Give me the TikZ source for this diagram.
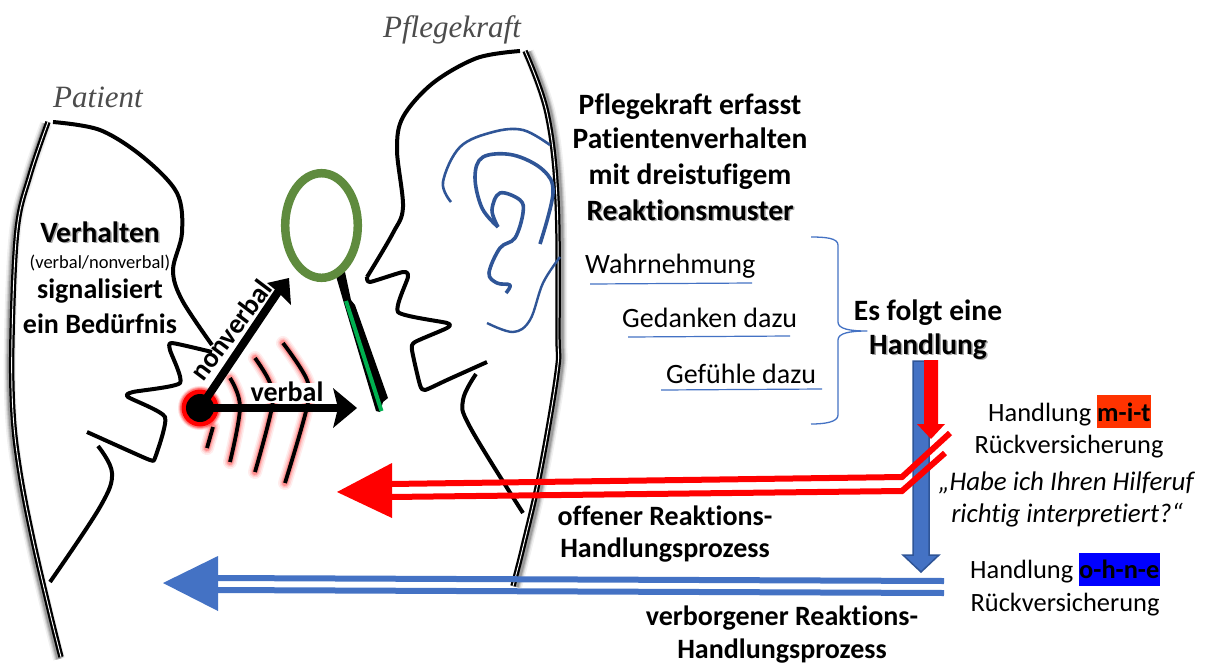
\documentclass[tikz,border=0pt]{standalone}
\usepackage{fontspec}
\setmainfont[Ligatures={NoCommon}]{Carlito}
\newfontfamily\handfont{Liberation Serif}
\definecolor{earblue}{HTML}{2F5597}
\definecolor{accblue}{HTML}{4472C4}
\definecolor{loupe}{HTML}{5F8B3E}
\definecolor{handleg}{HTML}{00B050}
\definecolor{hlred}{HTML}{FF3300}
\definecolor{hlblue}{HTML}{0000FF}
\newcommand{\shad}[1]{\rlap{\kern1.5pt\raisebox{-1.5pt}{\textcolor{black!35}{#1}}}#1}
\newcommand{\softshadow}[2]{%
  \foreach \wd/\op in {12/.06,9/.09,7/.12,5/.18}{\draw[line width=\wd pt,black,opacity=\op,shift={(#1)}] plot[smooth,tension=.6] coordinates {#2};}}
\newcommand{\redglow}[1]{%
  \foreach \wd/\op in {14/.07,11/.10,8/.14,6/.2}{\draw[line width=\wd pt,red,opacity=\op,line cap=round] plot[smooth,tension=.6] coordinates {#1};}}
\newcommand{\bodyline}[1]{%
  \draw[line width=5.4pt,black] plot[smooth,tension=.6] coordinates {#1};
  \draw[line width=.9pt,white] plot[smooth,tension=.6] coordinates {#1};}
\tikzset{
  head/.style={line width=4pt,black,line cap=butt,line join=round},
  ear/.style={line width=3pt,earblue,line cap=butt,line join=round},
  speech/.style={line width=3.8pt,black},
  txt/.style={font=\fontsize{26.4}{30}\selectfont,inner sep=0pt,anchor=base},
  ltxt/.style={font=\fontsize{28}{32}\selectfont,inner sep=0pt,anchor=base west},
  qtxt/.style={font=\fontsize{26.9}{30}\selectfont\itshape,inner sep=0pt,anchor=base},
  btxt/.style={font=\fontsize{29.5}{34}\selectfont\bfseries,inner sep=0pt,anchor=base},
  bltxt/.style={font=\fontsize{28}{32}\selectfont\bfseries,inner sep=0pt,anchor=base},
  hand/.style={font=\fontsize{31}{34}\selectfont\handfont\itshape,text=black!70,inner sep=0pt,anchor=base},
  under/.style={line width=1.2pt,accblue},
  blackarrow/.style={line width=8pt,black},
  redline/.style={line width=6pt,red,line join=miter},
  blueline/.style={line width=6pt,accblue},
}
\begin{document}
\begin{tikzpicture}[x=1pt,y=-1pt]
\useasboundingbox (0,0) rectangle (1211,665);
\fill[white] (0,0) rectangle (1211,665);

% patient
\softshadow{-2,2}{(48,122) (30,175) (17,230) (12,337) (13,413) (20,473) (33,540) (50,613) (61,657)}
\bodyline{(48,122) (30,175) (17,230) (12,337) (13,413) (20,473) (33,540) (50,613) (61,657)}
\draw[head] plot[smooth,tension=.55] coordinates {(53,122) (100,130) (143,157) (177,193) (182,233) (173,270) (182,300) (212,345)};
\draw[head] plot[smooth,tension=.35] coordinates {(212,352) (172,343) (170,350) (180,383) (133,392) (128,397) (165,417) (155,458) (150,460) (127,450) (87,432)};
\draw[head] plot[smooth,tension=.6] coordinates {(98,446) (112,473) (100,507) (50,582)};

% carer
\softshadow{3,1}{(525,51) (547,113) (557,200) (558,333) (557,373) (540,473) (523,547) (513,586)}
\bodyline{(525,51) (547,113) (557,200) (558,333) (557,373) (540,473) (523,547) (513,586)}
\draw[head] plot[smooth,tension=.55] coordinates {(520,51) (477,58) (433,83) (403,117) (397,150) (403,207) (393,233) (367,277)};
\draw[head] plot[smooth,tension=.35] coordinates {(367,277) (370,282) (403,272) (408,277) (398,312) (447,323) (447,328) (415,342) (412,350) (420,385) (425,390) (447,380) (487,362)};
\draw[head] plot[smooth,tension=.6] coordinates {(476,374) (463,400) (470,427) (523,513)};

% ear
\draw[ear,line width=2.6pt] plot[smooth,tension=.6] coordinates {(451,202) (443,182) (460,147) (493,132) (523,130) (550,145)};
\draw[ear,line width=3.6pt] plot[smooth,tension=.6] coordinates {(540,244) (553,193) (543,170) (513,155) (483,157) (475,177) (482,208) (498,227)};
\draw[ear,line width=3.6pt] plot[smooth,tension=.6] coordinates {(498,227) (492,210) (500,193) (520,200) (523,213) (515,238) (500,248) (489,273) (497,283) (510,285) (506,293)};
\draw[ear,line width=2.4pt] plot[smooth,tension=.6] coordinates {(487,323) (513,332) (530,320) (543,283) (560,257)};

% speech waves
\redglow{(213,427) (207,448)}
\redglow{(230,378) (240,407) (230,462)}
\redglow{(255,358) (270,383) (272,407) (255,472)}
\redglow{(283,343) (307,380) (307,407) (285,483)}
\draw[speech] plot[smooth,tension=.6] coordinates {(213,427) (207,448)};
\draw[speech] plot[smooth,tension=.6] coordinates {(230,378) (240,407) (230,462)};
\draw[speech] plot[smooth,tension=.6] coordinates {(255,358) (270,383) (272,407) (255,472)};
\draw[speech] plot[smooth,tension=.6] coordinates {(283,343) (307,380) (307,407) (285,483)};

% magnifier
\fill[black] (336,276) -- (345,272) -- (351,300) -- (355,305) -- (388,398) -- (383,402) -- (380,412) -- (376,411) -- (343,300) -- cycle;
\draw[line width=4pt,handleg] (346,301) -- (381.5,411);
\draw[line width=8.5pt,loupe] (321.5,225.5) ellipse [x radius=36.3,y radius=52.3];

% label above the waves
\node[fill=white,inner sep=0pt,minimum width=73pt,minimum height=20pt] (verbalbg) at (287,393) {};

% dot and arrows
\foreach \sz/\op in {44/.12,42/.2,40/.35}{\fill[red,opacity=\op] (200,408) circle (\sz/2);}
\node[circle,fill=red,minimum size=37pt,inner sep=0pt] (ring) at (200,408) {};
\node[circle,fill=black,minimum size=28pt,inner sep=0pt] (dot) at (200,408) {};
\coordinate (nvtip) at (280,289);
\coordinate (vtip) at (340,408);
\draw[blackarrow] (dot.center) -- (nvtip);
\draw[blackarrow] (dot.center) -- (vtip);
\fill[black] (289,278) -- (267,283) -- (278,292) -- (291,305) -- cycle;
\fill[black] (357,408) -- (333,388) -- (338,408) -- (333,428) -- cycle;
\node[font=\fontsize{28}{30}\selectfont\bfseries,inner sep=0pt,rotate=53] (nonverbal) at (231,330) {nonverbal};
\node[bltxt] (verbal) at (287,401) {verbal};

% vertical arrows
\draw[fill=accblue,draw=earblue,line width=1.5pt,line join=miter] (913,361) -- (929,361) -- (929,555) -- (939,555) -- (921,572) -- (903,555) -- (913,555) -- cycle;
\fill[red] (924,360) -- (938,360) -- (938,424) -- (945,424) -- (931,439) -- (917,424) -- (924,424) -- cycle;

% red double arrow
\coordinate (ra1) at (950,433); \coordinate (ra2) at (945,453);
\coordinate (rb1) at (902,477); \coordinate (rb2) at (902,491);
\coordinate (rc1) at (390,484); \coordinate (rc2) at (390,497);
\draw[line width=3pt,white] (ra1) -- +(-12,9);
\draw[redline] (ra1) -- (rb1) -- (rc1);
\draw[redline] (ra2) -- (rb2) -- (rc2);
\fill[red] (337,492) -- (392,463) -- (392,518) -- cycle;

% blue double arrow
\coordinate (ba1) at (944,581); \coordinate (ba2) at (944,593);
\coordinate (bb1) at (216,578); \coordinate (bb2) at (216,590);
\draw[blueline] (ba1) -- (bb1);
\draw[blueline] (ba2) -- (bb2);
\fill[accblue] (163,583) -- (218,556) -- (218,611) -- cycle;

% brace
\draw[line width=1.3pt,accblue,line join=round] (811,237) .. controls (825,237) and (838,238) .. (838,245) -- (838,322) .. controls (838,329) and (850,331) .. (867,331) .. controls (850,331) and (838,333) .. (838,340) -- (838,415) .. controls (838,422) and (825,424) .. (811,424);
\coordinate (u1a) at (590,284); \coordinate (u1b) at (752,283);
\coordinate (u2a) at (628,337); \coordinate (u2b) at (790,336);
\coordinate (u3a) at (661,390); \coordinate (u3b) at (822,389);
\draw[under] (u1a) -- (u1b);
\draw[under] (u2a) -- (u2b);
\draw[under] (u3a) -- (u3b);

% highlights
\fill[hlred] (1097,395) rectangle (1151,428);
\fill[hlblue] (1079,553) rectangle (1160,586);

% texts
\node[hand] (patient) at (98,107) {Patient};
\node[hand] (pflegekraft) at (452,37) {Pflegekraft};
\node[btxt] (verhalten) at (100,242) {\shad{Verhalten}};
\node[font=\fontsize{18.5}{20}\selectfont,inner sep=0pt,anchor=base] (klammer) at (100,268) {(verbal/nonverbal)};
\node[bltxt] (signal) at (100,298) {signalisiert};
\node[bltxt] (beduerfnis) at (100,333) {ein Bedürfnis};
\node[btxt] (t1) at (690,114) {Pflegekraft erfasst};
\node[btxt] (t2) at (690,148) {Patientenverhalten};
\node[btxt] (t3) at (690,184) {mit dreistufigem};
\node[btxt] (t4) at (690,220) {\shad{Reaktionsmuster}};
\node[ltxt] (wahr) at (585,273) {Wahrnehmung};
\node[ltxt] (ged) at (622,327) {Gedanken dazu};
\node[ltxt] (gef) at (666,383) {Gefühle dazu};
\node[btxt] (folgt) at (928,320) {Es folgt eine};
\node[btxt] (handl) at (928,354) {\shad{Handlung}};
\node[txt,anchor=base west] (mit) at (988,421) {Handlung \textbf{m-i-t}};
\node[txt] (rv1) at (1069,453) {Rückversicherung};
\node[qtxt] (q1) at (1066,490) {„Habe ich Ihren Hilferuf};
\node[qtxt] (q2) at (1067,522) {richtig interpretiert?“};
\node[txt,anchor=base west] (ohne) at (970,578) {Handlung \textbf{o-h-n-e}};
\node[txt] (rv2) at (1065,611) {Rückversicherung};
\node[bltxt] (off1) at (665,525) {offener Reaktions-};
\node[bltxt] (off2) at (665,557) {Handlungsprozess};
\node[bltxt] (ver1) at (782,625) {verborgener Reaktions-};
\node[bltxt] (ver2) at (782,658) {Handlungsprozess};
\end{tikzpicture}
\end{document}
